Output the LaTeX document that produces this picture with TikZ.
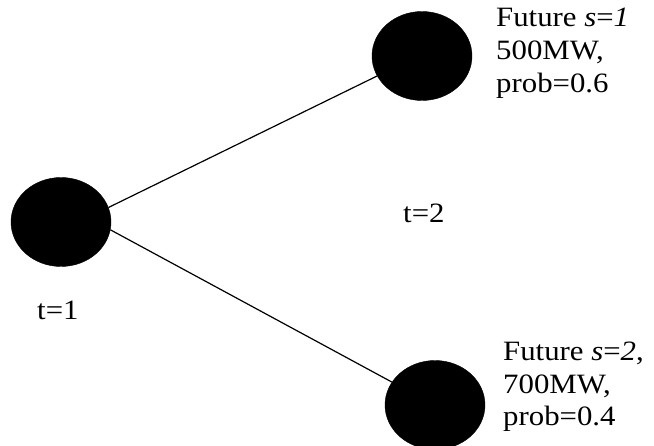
\documentclass[tikz,border=0pt]{standalone}
\usepackage{fontspec}
\setmainfont[FakeStretch=1.1]{Liberation Serif}
\usetikzlibrary{shapes.geometric}
\begin{document}
\begin{tikzpicture}[x=1pt,y=-1pt,
  stagenode/.style={ellipse,fill=black,draw=black,minimum width=100pt,minimum height=89pt,inner sep=0pt},
  branch/.style={line width=1.2pt},
  lbl/.style={font=\fontsize{28}{33}\selectfont,inner sep=0pt,anchor=base west,align=left}]
\useasboundingbox (0,0) rectangle (654,446);
\node[stagenode] (L) at (61,222) {};
\node[stagenode] (T) at (422,56) {};
\node[stagenode] (B) at (435,405) {};
\draw[branch] (L.17) -- (T.204);
\draw[branch] (L.-9) -- (B.152);
\node[lbl] (tT) at (496,93) {Future \textit{s}=\textit{1}\\500MW,\\prob=0.6};
\node[lbl] (tB) at (503,426) {Future \textit{s}=\textit{2},\\700MW,\\prob=0.4};
\node[lbl] (t1) at (37,320) {t=1};
\node[lbl] (t2) at (403,223) {t=2};
\end{tikzpicture}
\end{document}
